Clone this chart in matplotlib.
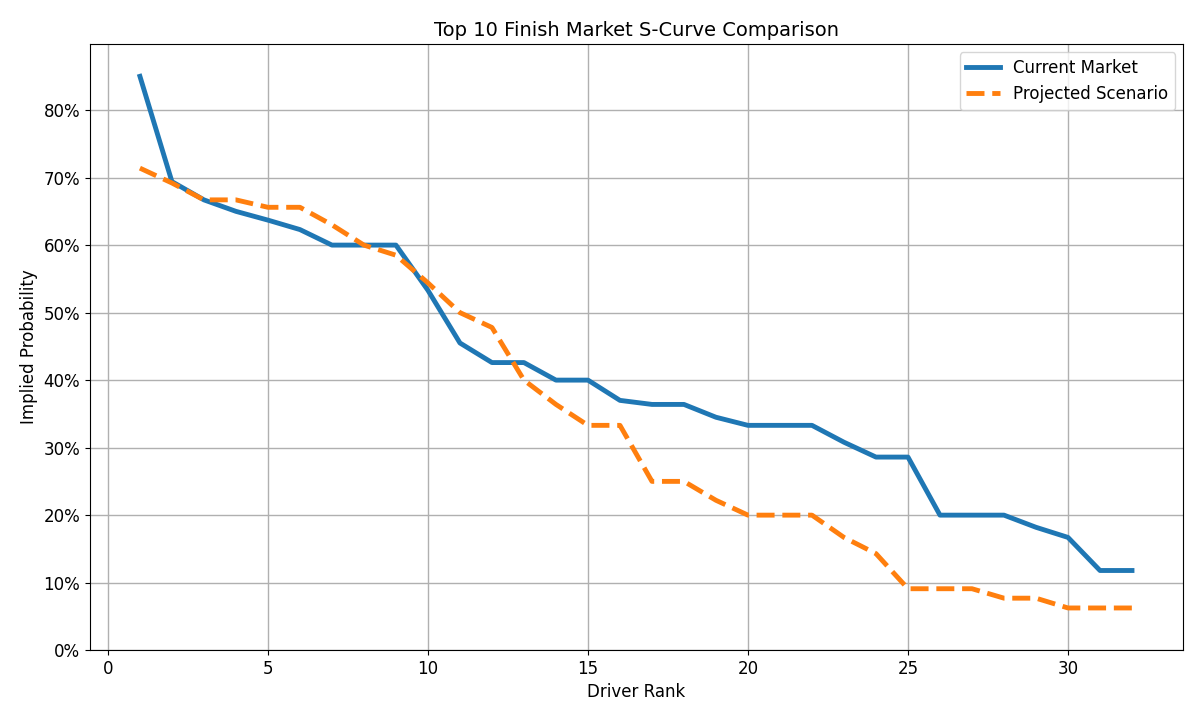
"""Top 10 finish market S-curve: current market vs projected scenario."""
import matplotlib
matplotlib.use("Agg")
import matplotlib.pyplot as plt
from matplotlib.ticker import PercentFormatter

ranks = list(range(1, 33))

current_market = [0.850, 0.694, 0.667, 0.650, 0.637, 0.623, 0.600, 0.600,
                  0.600, 0.533, 0.455, 0.426, 0.426, 0.400, 0.400, 0.370,
                  0.364, 0.364, 0.345, 0.333, 0.333, 0.333, 0.308, 0.286,
                  0.286, 0.200, 0.200, 0.200, 0.182, 0.167, 0.118, 0.118]

projected = [0.714, 0.692, 0.667, 0.667, 0.656, 0.656, 0.630, 0.600,
             0.585, 0.544, 0.500, 0.478, 0.400, 0.364, 0.333, 0.333,
             0.250, 0.250, 0.222, 0.200, 0.200, 0.200, 0.167, 0.143,
             0.091, 0.091, 0.091, 0.077, 0.077, 0.0625, 0.0625, 0.0625]

fig, ax = plt.subplots(figsize=(12, 7.2), dpi=100)
fig.subplots_adjust(left=0.075, right=0.986, top=0.939, bottom=0.097)
ax.plot(ranks, current_market, color="#1f77b4", lw=3.5, label="Current Market")
ax.plot(ranks, projected, color="#ff7f0e", lw=3.5, ls="--", label="Projected Scenario")

ax.set_title("Top 10 Finish Market S-Curve Comparison", fontsize=14)
ax.set_xlabel("Driver Rank", fontsize=12)
ax.set_ylabel("Implied Probability", fontsize=12)
ax.yaxis.set_major_formatter(PercentFormatter(1.0, decimals=0))
ax.set_ylim(0, 0.898)
ax.set_xlim(-0.56, 33.6)
ax.tick_params(labelsize=12)
ax.grid(True, color="#b0b0b0", lw=1)
ax.legend(loc="upper right", fontsize=12)

fig.savefig("out.png")
